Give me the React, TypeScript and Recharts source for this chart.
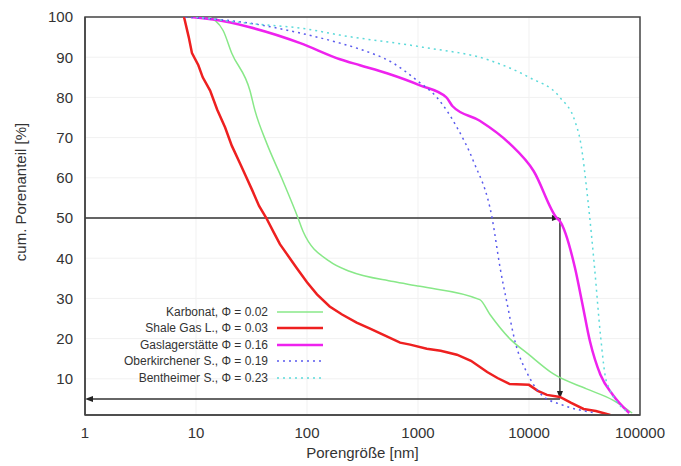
import { LineChart, Line, XAxis, YAxis, CartesianGrid, ReferenceLine, ReferenceArea } from 'recharts'

// pore size [nm] / cumulative share [%]
const karbonat = [
  [13, 100], [17.5, 96.7], [21, 91], [30.6, 81.7], [34, 76.7], [43.5, 68.5], [59, 60],
  [83, 50], [92, 46.7], [160, 39.2], [245, 36.7], [600, 34.2], [1040, 33], [3600, 29.7],
  [4450, 26], [6700, 20], [10000, 16], [16600, 11.2], [33000, 7.5], [57000, 4.7], [85000, 1.5],
]
const shaleGas = [
  [7.8, 100], [8.6, 95], [9.2, 91], [10.5, 88], [11.5, 85], [13.4, 81.7], [15.5, 77],
  [18.3, 72.5], [21, 68], [25, 63.5], [28, 60.5], [32, 57], [37, 53], [43, 50], [50, 46.5],
  [57, 43.5], [68, 40.5], [81, 37.5], [100, 34], [123, 31], [160, 28], [207, 26], [280, 24],
  [370, 22.5], [500, 20.8], [690, 19], [850, 18.5], [1200, 17.5], [1600, 17], [2240, 16],
  [3000, 14.5], [4200, 11.7], [5200, 10.2], [6700, 8.7], [10000, 8.5], [12000, 7], [14500, 6],
  [19000, 5.5], [24000, 4], [31000, 2.5], [40000, 2], [54000, 1],
]
const gaslager = [
  [9, 100], [15, 99.3], [30, 97.5], [87, 93.5], [198, 89.5], [300, 88], [525, 86],
  [1040, 83], [1800, 80], [2050, 77.8], [3600, 74.2], [6700, 68.5],
  [11000, 61.7], [17800, 50], [19000, 49.2], [26000, 37.5], [30000, 29.2], [35500, 19.2],
  [44000, 11], [57000, 6], [80000, 1.5],
]
const oberkirchen = [
  [8, 100], [30, 98.5], [87, 96], [198, 93.5], [300, 92], [600, 88.5], [980, 84.2],
  [1480, 80], [2250, 72.5], [3150, 64.2], [4650, 50], [5500, 37.5], [6300, 29.2],
  [7500, 19.2], [9800, 11], [13000, 6], [20000, 3.5], [40000, 1.5],
]
const bentheim = [
  [10, 100], [28, 98.5], [100, 97], [198, 95.5], [1100, 92.5], [4450, 89.2], [10000, 85],
  [19000, 80], [26000, 74], [29000, 69.2], [34000, 54.2], [39000, 37.5], [44000, 21],
  [50000, 9.2], [80000, 1.5],
]

const xTicks = [1, 10, 100, 1000, 10000, 100000]
const yTicks = [10, 20, 30, 40, 50, 60, 70, 80, 90, 100]

// arrows: median pore size of the Gaslagerstätte sample
const medianX = 19000
const medianY = 50
const lowY = 5

const FONT = '"Liberation Sans", Arial, sans-serif'
const AXIS = '#444'

const toPoints = (rows: number[][]) => rows.map(([x, y]) => ({ x, y }))

const SERIES = [
  { name: 'Karbonat, Φ = 0.02', data: karbonat, color: '#88e888', width: 1.5, dash: undefined, curve: 'monotone' },
  { name: 'Shale Gas L., Φ = 0.03', data: shaleGas, color: '#ee2020', width: 2.5, dash: undefined, curve: 'linear' },
  { name: 'Gaslagerstätte Φ = 0.16', data: gaslager, color: '#ee22ee', width: 2.5, dash: undefined, curve: 'monotone' },
  { name: 'Oberkirchener S., Φ = 0.19', data: oberkirchen, color: '#5a5aee', width: 1.5, dash: '2 4', curve: 'monotone' },
  { name: 'Bentheimer S., Φ = 0.23', data: bentheim, color: '#5cdada', width: 1.5, dash: '2 4', curve: 'monotone' },
]

function Arrow(props: any) {
  const { x1, y1, x2, y2 } = props
  const dx = x2 - x1
  const dy = y2 - y1
  const len = Math.sqrt(dx * dx + dy * dy) || 1
  const ux = dx / len
  const uy = dy / len
  const L = 8
  const W = 3
  const bx = x2 - ux * L
  const by = y2 - uy * L
  const pts = `${x2},${y2} ${bx - uy * W},${by + ux * W} ${bx + uy * W},${by - ux * W}`
  return (
    <g>
      <line x1={x1} y1={y1} x2={bx} y2={by} stroke="#333" strokeWidth={1.5} />
      <polygon points={pts} fill="#222" />
    </g>
  )
}

function LegendBox() {
  const rowY = [304, 320, 337, 353, 370]
  return (
    <svg width={673} height={458} style={{ position: 'absolute', left: 0, top: 0, pointerEvents: 'none' }}>
      {SERIES.map((s, i) => (
        <g key={s.name}>
          <text x={260} y={rowY[i]} dy="0.35em" textAnchor="end" fontSize={12} fontFamily={FONT} fill="#333">
            {s.name}
          </text>
          <line x1={269} x2={315} y1={rowY[i]} y2={rowY[i]} stroke={s.color} strokeWidth={s.width} strokeDasharray={s.dash} />
        </g>
      ))}
    </svg>
  )
}

export default function App() {
  return (
    <div style={{ position: 'relative', width: 673, height: 458 }}>
      <LineChart width={673} height={458} margin={{ top: 9, right: 41, bottom: 0, left: 0 }}>
        <CartesianGrid stroke="#f1f1f1" />
        <XAxis
          dataKey="x"
          type="number"
          scale="log"
          domain={[1, 100000]}
          ticks={xTicks}
          allowDataOverflow
          height={51}
          stroke={AXIS}
          strokeWidth={1.5}
          tickLine={false}
          tickMargin={6}
          tick={{ fill: '#333', fontSize: 15, fontFamily: FONT }}
          label={{ value: 'Porengröße [nm]', position: 'insideBottom', offset: 8, fill: '#333', fontSize: 15, fontFamily: FONT }}
        />
        <YAxis
          type="number"
          domain={[1, 100]}
          ticks={yTicks}
          allowDataOverflow
          width={77}
          stroke={AXIS}
          strokeWidth={1.5}
          tickLine={false}
          tickMargin={6}
          tick={{ fill: '#333', fontSize: 15, fontFamily: FONT }}
          label={{
            content: () => (
              <text x={12} y={184} transform="rotate(-90 12 184)" textAnchor="middle" dominantBaseline="central" fontSize={15} fontFamily={FONT} fill="#333">
                cum. Porenanteil [%]
              </text>
            ),
          }}
        />
        <ReferenceArea x1={1} x2={100000} y1={1} y2={100} fill="none" stroke={AXIS} strokeWidth={1.5} />
        <ReferenceLine segment={[{ x: 1, y: medianY }, { x: medianX, y: medianY }]} shape={Arrow} />
        <ReferenceLine segment={[{ x: medianX, y: medianY }, { x: medianX, y: lowY }]} shape={Arrow} />
        <ReferenceLine segment={[{ x: medianX, y: lowY }, { x: 1, y: lowY }]} shape={Arrow} />
        {SERIES.map((s) => (
          <Line
            key={s.name}
            data={toPoints(s.data)}
            dataKey="y"
            name={s.name}
            type={s.curve as any}
            stroke={s.color}
            strokeWidth={s.width}
            strokeDasharray={s.dash}
            dot={false}
            isAnimationActive={false}
          />
        ))}
      </LineChart>
      <LegendBox />
    </div>
  )
}
